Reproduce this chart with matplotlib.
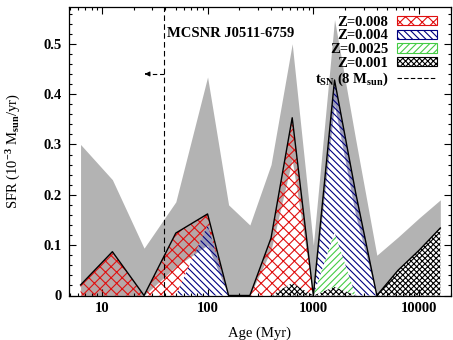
import matplotlib
matplotlib.use('Agg')
import matplotlib.pyplot as plt
from matplotlib.patches import Patch
from matplotlib.lines import Line2D
from matplotlib.ticker import LogLocator, MultipleLocator, NullFormatter, FixedLocator, FixedFormatter

plt.rcParams['font.family'] = ['Liberation Serif', 'DejaVu Serif']
plt.rcParams['font.weight'] = 'bold'
plt.rcParams['mathtext.fontset'] = 'custom'
plt.rcParams['mathtext.rm'] = 'Liberation Serif:bold'
plt.rcParams['mathtext.it'] = 'Liberation Serif:bold'
plt.rcParams['mathtext.bf'] = 'Liberation Serif:bold'
plt.rcParams['hatch.linewidth'] = 0.8

# Data: age bins (Myr) and SFR (1e-3 Msun/yr)
ages = [6.3, 12.6, 25.1, 50.1, 100, 158, 251, 398, 631, 1000, 1585, 2512, 3981, 6310, 10000, 15849]
sfr_upper = [0.30, 0.23, 0.094, 0.186, 0.434, 0.18, 0.14, 0.26, 0.50, 0.10, 0.548, 0.31, 0.08, 0.116, 0.154, 0.19]
sfr_lower = [0, 0, 0, 0.057, 0.10, 0, 0, 0.09, 0.27, 0, 0.38, 0.16, 0, 0.05, 0.09, 0.134]
z001 = [0, 0, 0, 0, 0, 0, 0, 0, 0.025, 0, 0.017, 0, 0, 0.05, 0.09, 0.134]
z0025 = [0, 0, 0, 0, 0, 0, 0, 0, 0, 0, 0.108, 0, 0, 0, 0, 0]
z004 = [0, 0, 0, 0, 0.14, 0, 0, 0, 0, 0, 0.303, 0.204, 0, 0, 0, 0]
z008 = [0.021, 0.087, 0, 0.124, 0.022, 0, 0, 0.114, 0.328, 0, 0, 0, 0, 0, 0, 0]

t_sn = 39  # lifetime of 8 Msun star (Myr)
title = 'MCSNR J0511-6759'

# stacking, bottom to top: name, values, hatch colour, hatch, tint, tint alpha
comps = [
    ('Z=0.001', z001, 'black', 'xxxxxx', None, 0),
    ('Z=0.0025', z0025, '#44cc44', '/////', '#44cc44', 0.15),
    ('Z=0.004', z004, '#000080', '\\\\\\\\\\', '#3333cc', 0.18),
    ('Z=0.008', z008, '#e01010', 'xxx', '#e01010', 0.07),
]

fig = plt.figure(figsize=(4.53, 3.40), dpi=100)
ax = fig.add_axes([69 / 453, 1 - 295.5 / 340, 382 / 453, 288.5 / 340])

gray = ax.fill_between(ages, sfr_lower, sfr_upper, color='#b3b3b3', lw=0, zorder=1)
clip = gray.get_paths()[0]

base = [0.0] * len(ages)
for name, vals, col, hatch, tint, ta in comps:
    top = [b + v for b, v in zip(base, vals)]
    if tint is not None:
        t = ax.fill_between(ages, base, top, color=tint, alpha=ta, lw=0, zorder=2)
        t.set_clip_path(clip, ax.transData)
    ax.fill_between(ages, base, top, facecolor='none', edgecolor=col, hatch=hatch, lw=0, zorder=3)
    base = top

ax.plot(ages, base, color='black', lw=1.0, zorder=4)

ax.axvline(t_sn, color='black', lw=0.8, ls=(0, (5, 3)), zorder=5)
ax.plot([t_sn, 27.5], [0.44, 0.44], color='black', lw=0.8, ls=(0, (4, 2.5)), zorder=5)
ax.annotate('', xy=(25.5, 0.44), xytext=(28, 0.44),
            arrowprops=dict(arrowstyle='-|>', color='black', lw=0.8, mutation_scale=7), zorder=5)

ax.text(41, 0.52, title, fontsize=10.5, ha='left', va='center')

ax.set_xscale('log')
ax.set_xlim(4.9, 20000)
ax.set_ylim(0, 0.573)
ax.xaxis.set_major_locator(FixedLocator([10, 100, 1000, 10000]))
ax.xaxis.set_major_formatter(FixedFormatter(['10', '100', '1000', '10000']))
ax.xaxis.set_minor_locator(LogLocator(base=10, subs=range(2, 10), numticks=20))
ax.xaxis.set_minor_formatter(NullFormatter())
ax.yaxis.set_major_locator(MultipleLocator(0.1))
ax.yaxis.set_minor_locator(MultipleLocator(0.02))
ax.set_yticks([0, 0.1, 0.2, 0.3, 0.4, 0.5])
ax.set_yticklabels(['0', '0.1', '0.2', '0.3', '0.4', '0.5'])
ax.tick_params(which='both', direction='in', top=True, right=True, labelsize=10.5, width=0.8)
ax.tick_params(which='major', length=5, pad=5)
ax.tick_params(which='minor', length=2.5)
for s in ax.spines.values():
    s.set_linewidth(0.9)

ax.set_xlabel('Age (Myr)', fontsize=10.5, labelpad=8)
ax.set_ylabel(r'SFR (10$^{-3}$ M$_{\rm sun}$/yr)', fontsize=10.5, labelpad=15)

handles = []
for name, vals, col, hatch, tint, ta in reversed(comps):
    handles.append(Patch(facecolor='white', edgecolor=col, hatch=hatch, lw=0.8, label=name))
handles.append(Line2D([], [], color='black', lw=0.8, ls=(0, (4, 2)), label=r't$_{\rm SN}$ (8 M$_{\rm sun}$)'))
ax.legend(handles=handles, loc='upper right', bbox_to_anchor=(0.966, 0.975), frameon=False,
          markerfirst=False, fontsize=10.5, handlelength=2.7, handleheight=0.6, handletextpad=0.6,
          labelspacing=0.05, borderaxespad=0, borderpad=0.1)

fig.savefig('out.png', dpi=100)
